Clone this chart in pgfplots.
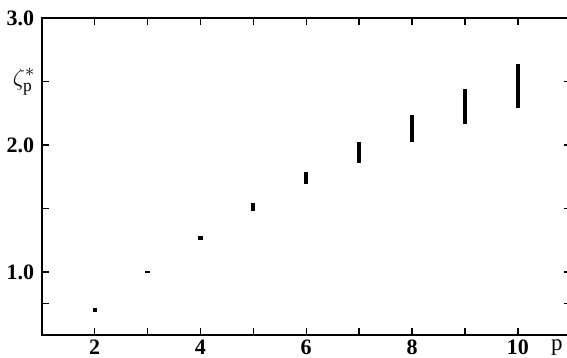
\documentclass[border=0pt]{standalone}
\usepackage{fontspec}
\setmainfont{Liberation Serif}
\usepackage{pgfplots}
\pgfplotsset{compat=1.18}
\begin{document}
\begin{tikzpicture}
\begin{axis}[
  scale only axis,
  width=264.5pt, height=158.55pt,
  xmin=1, xmax=11, ymin=0.5, ymax=3.0,
  axis line style={line width=1pt},
  tick align=inside,
  major tick length=3.5pt,
  tick style={line width=0.7pt, black},
  xtick={2,3,4,5,6,7,8,9,10},
  xticklabels={2,,4,,6,,8,,10},
  ytick={0.75,1,1.5,2,2.5,3},
  yticklabels={,1.0,,2.0,,3.0},
  extra x ticks={10.74},
  extra x tick labels={p},
  extra x tick style={major tick length=0pt, tick label style={font=\fontsize{11.5}{12}\selectfont}},
  /pgf/number format/assume math mode=true,
  tick label style={font=\fontsize{11}{12}\selectfont\bfseries},
  xticklabel style={yshift=1.2pt},
  yticklabel style={xshift=-0.2pt},
  clip=false,
]
\addplot[line width=2.1pt, black] coordinates {(2,0.682) (2,0.714)};
\addplot[line width=1pt, black] coordinates {(2.96,1.0) (3.05,1.0)};
\addplot[line width=2.1pt, black] coordinates {(4,1.255) (4,1.286)};
\addplot[line width=2.1pt, black] coordinates {(5,1.481) (5,1.540)};
\addplot[line width=2.1pt, black] coordinates {(6,1.692) (6,1.789)};
\addplot[line width=2.3pt, black] coordinates {(7,1.863) (7,2.021)};
\addplot[line width=2.3pt, black] coordinates {(8,2.026) (8,2.237)};
\addplot[line width=2.3pt, black] coordinates {(9,2.166) (9,2.440)};
\addplot[line width=2.3pt, black] coordinates {(10,2.290) (10,2.639)};
\node[anchor=east, inner sep=0pt, font=\fontsize{12.5}{13}\selectfont] at ([xshift=-3pt]axis cs:1,2.5) {$\zeta^{*}_{\mathrm{p}}$};
\coordinate (SW) at (rel axis cs:0,0);
\end{axis}
\pgfresetboundingbox
\path[use as bounding box] ([shift={(-20.85pt,-11.3pt)}]SW) rectangle ([shift={(262.65pt,167.7pt)}]SW);
\end{tikzpicture}
\end{document}
